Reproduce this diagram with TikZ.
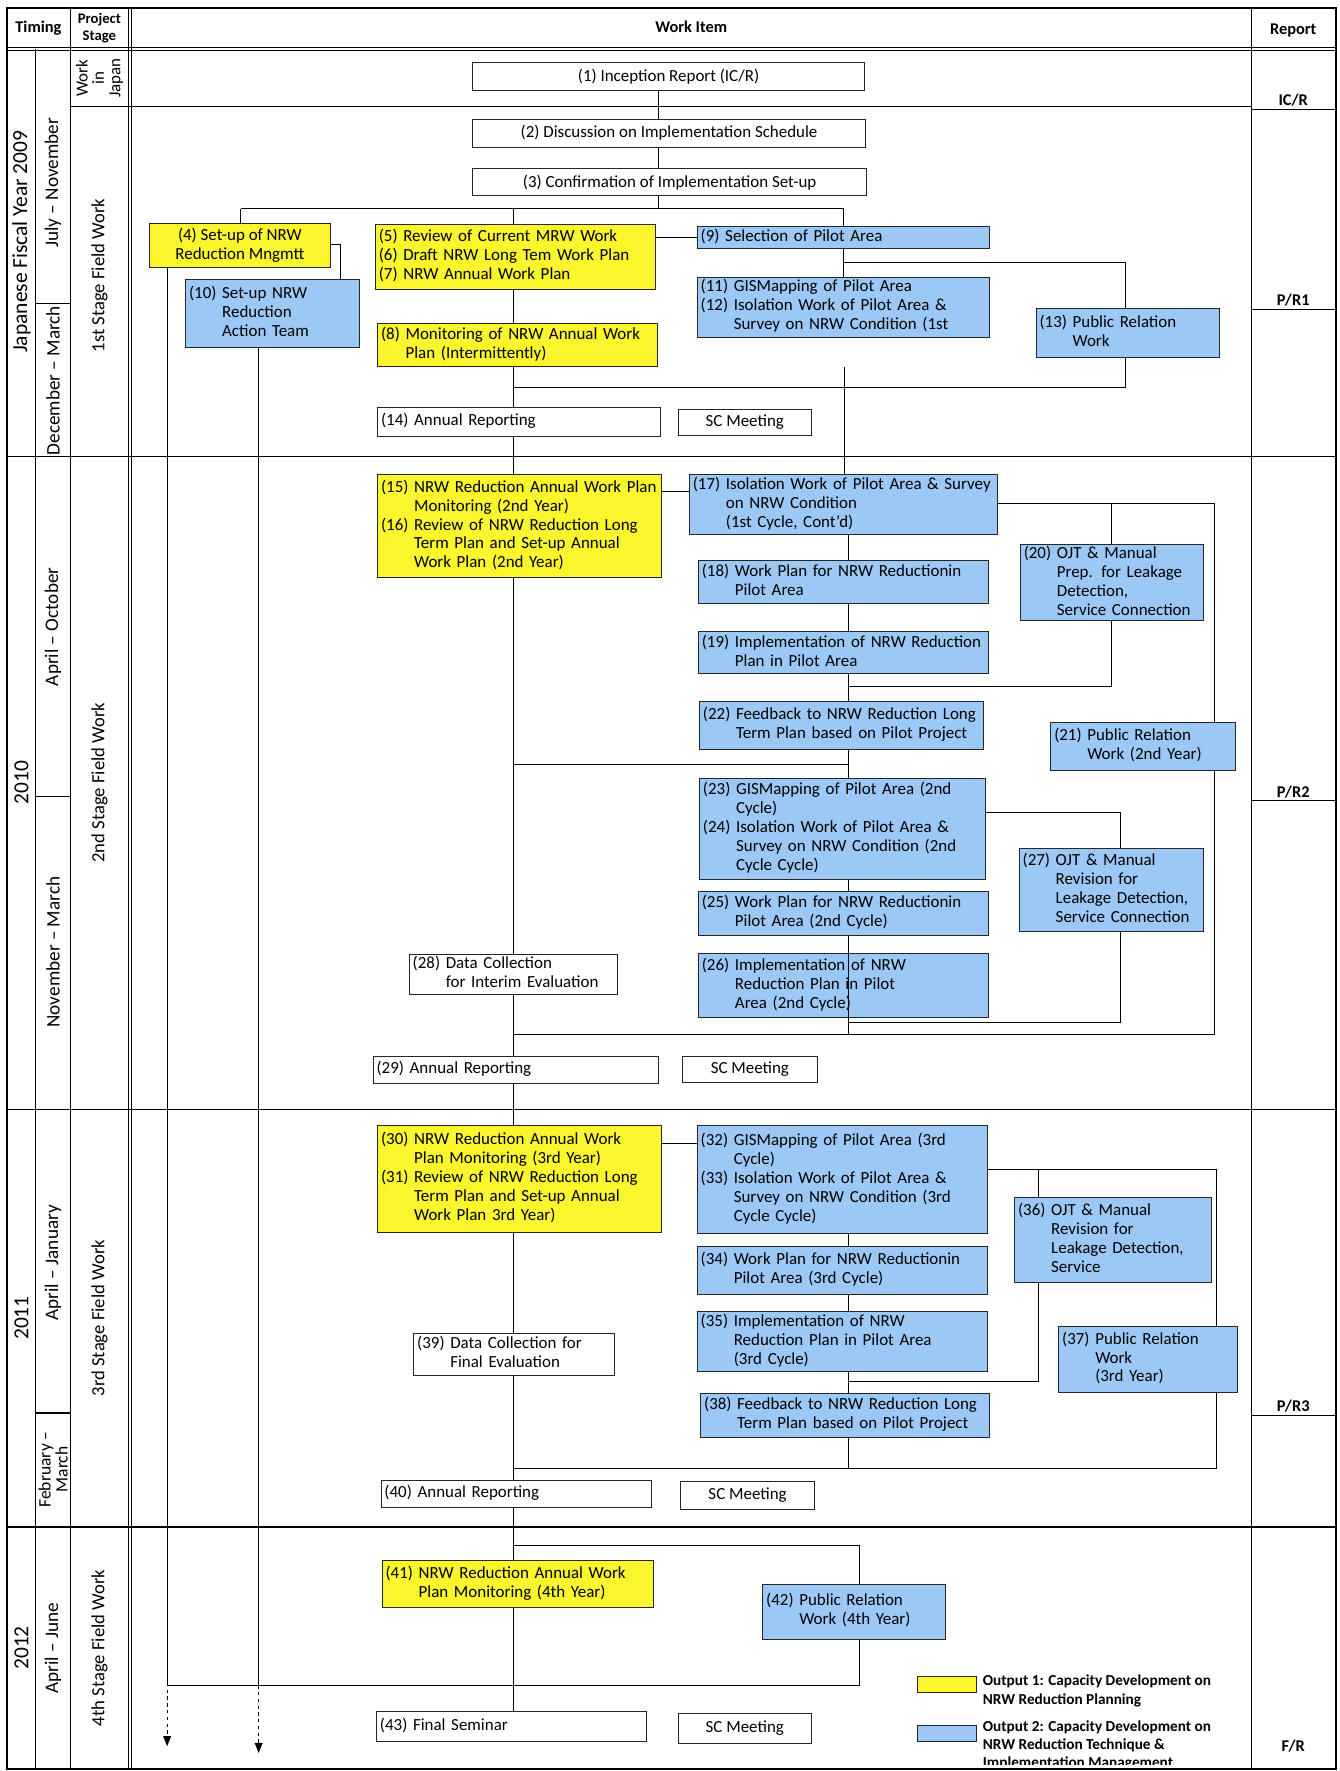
\documentclass[tikz,border=0pt]{standalone}
\usepackage{fontspec}
\setmainfont{Carlito}
\usetikzlibrary{positioning,arrows.meta}

\definecolor{nrwyellow}{RGB}{250,245,45}
\definecolor{nrwblue}{RGB}{155,200,245}
\newcommand{\bxfont}{\fontsize{15}{16.8}\selectfont}
\newcommand{\sidefont}{\fontsize{16.5}{17}\selectfont}
\newcommand{\hdfont}{\fontsize{14.5}{15}\selectfont\bfseries}
\newcommand{\lgfont}{\fontsize{13.5}{16}\selectfont\bfseries}
\newcommand{\witem}[1]{\begin{tabular}{@{\hspace{3pt}}l@{ }l@{}}#1\end{tabular}}

\begin{document}
\begin{tikzpicture}[x=1pt, y=-1pt,
    wb/.style={draw=black!85, line width=0.8pt, anchor=north west, inner xsep=3pt, inner ysep=0pt, font=\bxfont, align=left},
    cbox/.style 2 args={minimum width=#1pt, minimum height=#2pt},
    lbox/.style 2 args={minimum width=#1pt, text width=#1pt, minimum height=#2pt, inner xsep=0pt},
    conn/.style={line width=0.8pt},
    grid/.style={line width=1pt},
    side/.style={rotate=90, font=\sidefont, align=center, inner sep=0pt},
    yr/.style={side, font=\fontsize{19}{20}\selectfont},
    mon/.style={side, font=\fontsize{17}{17}\selectfont},
    rep/.style={font=\hdfont}
  ]
  \fill[white] (0,0) rectangle (1186,1568);
  \useasboundingbox (0,0) rectangle (1186,1568);

  % table frame
  \draw[line width=1.8pt] (6,7) rectangle (1183,1566);
  \draw[grid] (31.6,43) -- (31.6,1566);
  \draw[grid] (62.5,7) -- (62.5,1566);
  \draw[grid] (113.5,7) -- (113.5,1566);
  \draw[grid] (116.6,7) -- (116.6,1566);
  \draw[grid] (1108,7) -- (1108,1566);
  \draw[grid] (6,42) -- (1183,42);
  \draw[grid] (6,45) -- (1183,45);
  \draw[grid] (62.5,94) -- (1108,94);
  \draw[grid] (1108,97) -- (1183,97);
  \draw[grid] (31.6,269) -- (62.5,269);
  \draw[grid] (1108,274) -- (1183,274);
  \draw[grid] (6,404) -- (1183,404);
  \draw[grid] (31.6,705) -- (62.5,705);
  \draw[grid] (1108,709) -- (1183,709);
  \draw[grid] (6,982) -- (1183,982);
  \draw[grid] (31.6,1251) -- (62.5,1251);
  \draw[grid] (1108,1253) -- (1183,1253);
  \draw[grid] (6,1352) -- (1183,1352);

  % headings
  \node[font=\hdfont] (hTiming) at (34,25) {Timing};
  \node[font=\fontsize{13}{14.5}\selectfont\bfseries, align=center] (hStage) at (88,25) {Project\\Stage};
  \node[font=\hdfont] (hWork) at (612,24) {Work Item};
  \node[font=\hdfont] (hReport) at (1145,27) {Report};

  \node[yr] (y2009) at (19,214) {Japanese Fiscal Year 2009};
  \node[yr] (y2010) at (19,693) {2010};
  \node[yr] (y2011) at (19,1167) {2011};
  \node[yr] (y2012) at (19,1459) {2012};
  \node[mon] (m1) at (47,162) {July – November};
  \node[mon] (m2) at (47,337) {December – March};
  \node[mon] (m3) at (47,555) {April – October};
  \node[mon] (m4) at (47,843) {November – March};
  \node[mon] (m5) at (47,1118) {April – January};
  \node[side, font=\fontsize{15.5}{15}\selectfont] (m6) at (47,1301) {February –\\March};
  \node[mon] (m7) at (47,1459) {April – June};
  \node[side, font=\fontsize{15}{14.5}\selectfont] (s0) at (88,69) {Work\\in\\Japan};
  \node[side] (s1) at (88,244) {1st Stage Field Work};
  \node[side] (s2) at (88,693) {2nd Stage Field Work};
  \node[side] (s3) at (88,1167) {3rd Stage Field Work};
  \node[side] (s4) at (88,1459) {4th Stage Field Work};

  \node[rep] (rIC) at (1145,89) {IC/R};
  \node[rep] (rP1) at (1145,266) {P/R1};
  \node[rep] (rP2) at (1145,701) {P/R2};
  \node[rep] (rP3) at (1145,1245) {P/R3};
  \node[rep] (rF) at (1145,1546) {F/R};

  % work items
  \node[wb, cbox={347}{25}, align=center] (w1) at (418,55) {(1) Inception Report (IC/R)};
  \node[wb, cbox={348}{25}, align=center] (w2) at (418,105) {(2) Discussion on Implementation Schedule};
  \node[wb, cbox={349}{24}, align=center] (w3) at (418,149) {(3) Confirmation of Implementation Set-up};
  \node[wb, cbox={160}{39}, align=center, fill=nrwyellow] (w4) at (132,197) {(4) Set-up of NRW\\Reduction Mngmtt};
  \node[wb, lbox={248}{58}, fill=nrwyellow] (w5) at (332,198) {\witem{(5)&Review of Current MRW Work\\(6)&Draft NRW Long Tem Work Plan\\(7)&NRW Annual Work Plan}};
  \node[wb, lbox={248}{38}, fill=nrwyellow] (w8) at (334,286) {\witem{(8)&Monitoring of NRW Annual Work\\&Plan (Intermittently)}};
  \node[wb, lbox={259}{20}, fill=nrwblue] (w9) at (617,200) {\witem{(9)&Selection of Pilot Area}};
  \node[wb, lbox={154}{60}, fill=nrwblue] (w10) at (164,247) {\witem{(10)&Set-up NRW\\&Reduction\\&Action Team}};
  \node[wb, lbox={259}{53}, fill=nrwblue] (w11) at (617,245) {\witem{(11)&GISMapping of Pilot Area\\(12)&Isolation Work of Pilot Area \&\\&Survey on NRW Condition (1st}};
  \node[wb, lbox={162}{43}, fill=nrwblue] (w13) at (917,273) {\witem{(13)&Public Relation\\&Work}};
  \node[wb, lbox={250}{26}] (w14) at (334,360) {\witem{(14)&Annual Reporting}};
  \node[wb, cbox={118}{23}, align=center] (sc1) at (600,362) {SC Meeting};

  \node[wb, lbox={251}{91}, fill=nrwyellow] (w15) at (334,420) {\witem{(15)&NRW Reduction Annual Work Plan\\&Monitoring (2nd Year)\\(16)&Review of NRW Reduction Long\\&Term Plan and Set-up Annual\\&Work Plan (2nd Year)}};
  \node[wb, lbox={273}{53}, fill=nrwblue] (w17) at (610,420) {\witem{(17)&Isolation Work of Pilot Area \& Survey\\&on NRW Condition\\&(1st Cycle, Cont'd)}};
  \node[wb, lbox={257}{38}, fill=nrwblue] (w18) at (618,496) {\witem{(18)&Work Plan for NRW Reductionin\\&Pilot Area}};
  \node[wb, lbox={257}{37}, fill=nrwblue] (w19) at (618,559) {\witem{(19)&Implementation of NRW Reduction\\&Plan in Pilot Area}};
  \node[wb, lbox={162}{66}, fill=nrwblue] (w20) at (903,482) {\witem{(20)&OJT \& Manual\\&Prep. for Leakage\\&Detection,\\&Service Connection}};
  \node[wb, lbox={251}{42}, fill=nrwblue] (w22) at (619,621) {\witem{(22)&Feedback to NRW Reduction Long\\&Term Plan based on Pilot Project}};
  \node[wb, lbox={163}{43}, fill=nrwblue] (w21) at (930,639) {\witem{(21)&Public Relation\\&Work (2nd Year)}};
  \node[wb, lbox={253}{89}, fill=nrwblue] (w23) at (619,689) {\witem{(23)&GISMapping of Pilot Area (2nd\\&Cycle)\\(24)&Isolation Work of Pilot Area \&\\&Survey on NRW Condition (2nd\\&Cycle Cycle)}};
  \node[wb, lbox={257}{39}, fill=nrwblue] (w25) at (618,789) {\witem{(25)&Work Plan for NRW Reductionin\\&Pilot Area (2nd Cycle)}};
  \node[wb, lbox={257}{56}, fill=nrwblue] (w26) at (618,844) {\witem{(26)&Implementation of NRW\\&Reduction Plan in Pilot\\&Area (2nd Cycle)}};
  \node[wb, lbox={163}{73}, fill=nrwblue] (w27) at (902,751) {\witem{(27)&OJT \& Manual\\&Revision for\\&Leakage Detection,\\&Service Connection}};
  \node[wb, lbox={184}{35}] (w28) at (362,845) {\witem{(28)&Data Collection\\&for Interim Evaluation}};
  \node[wb, lbox={253}{24}] (w29) at (330,935) {\witem{(29)&Annual Reporting}};
  \node[wb, cbox={119}{23}, align=center] (sc2) at (604,935) {SC Meeting};

  \node[wb, lbox={251}{95}, fill=nrwyellow] (w30) at (334,996) {\witem{(30)&NRW Reduction Annual Work\\&Plan Monitoring (3rd Year)\\(31)&Review of NRW Reduction Long\\&Term Plan and Set-up Annual\\&Work Plan 3rd Year)}};
  \node[wb, lbox={257}{96}, fill=nrwblue] (w32) at (617,996) {\witem{(32)&GISMapping of Pilot Area (3rd\\&Cycle)\\(33)&Isolation Work of Pilot Area \&\\&Survey on NRW Condition (3rd\\&Cycle Cycle)}};
  \node[wb, lbox={257}{43}, fill=nrwblue] (w34) at (617,1103) {\witem{(34)&Work Plan for NRW Reductionin\\&Pilot Area (3rd Cycle)}};
  \node[wb, lbox={257}{53}, fill=nrwblue] (w35) at (617,1161) {\witem{(35)&Implementation of NRW\\&Reduction Plan in Pilot Area\\&(3rd Cycle)}};
  \node[wb, lbox={174}{75}, fill=nrwblue] (w36) at (898,1060) {\witem{(36)&OJT \& Manual\\&Revision for\\&Leakage Detection,\\&Service}};
  \node[wb, lbox={158}{58}, fill=nrwblue] (w37) at (937,1174) {\witem{(37)&Public Relation\\&Work\\&(3rd Year)}};
  \node[wb, lbox={256}{39}, fill=nrwblue] (w38) at (620,1233) {\witem{(38)&Feedback to NRW Reduction Long\\&Term Plan based on Pilot Project}};
  \node[wb, lbox={178}{37}] (w39) at (366,1180) {\witem{(39)&Data Collection for\\&Final Evaluation}};
  \node[wb, lbox={239}{24}] (w40) at (337,1310) {\witem{(40)&Annual Reporting}};
  \node[wb, cbox={119}{25}, align=center] (sc3) at (602,1311) {SC Meeting};

  \node[wb, lbox={240}{42}, fill=nrwyellow] (w41) at (338,1381) {\witem{(41)&NRW Reduction Annual Work\\&Plan Monitoring (4th Year)}};
  \node[wb, lbox={162}{49}, fill=nrwblue] (w42) at (675,1402) {\witem{(42)&Public Relation\\&Work (4th Year)}};
  \node[wb, lbox={239}{26}] (w43) at (333,1515) {\witem{(43)&Final Seminar}};
  \node[wb, cbox={118}{26}, align=center] (sc4) at (600,1517) {SC Meeting};

  % legend
  \node[wb, cbox={52}{14}, fill=nrwyellow] (legy) at (812,1484) {};
  \node[wb, cbox={52}{14}, fill=nrwblue] (legb) at (812,1527) {};
  \node[anchor=north west, align=left, font=\lgfont, inner sep=0pt] (leg1) at (870,1483) {Output 1: Capacity Development on\\NRW Reduction Planning};
  \begin{scope}
    \clip (860,1515) rectangle (1105,1562);
    \node[anchor=north west, align=left, font=\lgfont, inner sep=0pt] (leg2) at (870,1523) {Output 2: Capacity Development on\\NRW Reduction Technique \&\\Implementation Management};
  \end{scope}

  % connectors
  \coordinate (spA) at (583,0);
  \coordinate (spY) at (455,0);
  \coordinate (spB) at (751,0);
  \coordinate (bL) at (213,185);
  \coordinate (bR) at (747,185);
  \draw[conn] (w1.south -| spA) -- (w2.north -| spA);
  \draw[conn] (w2.south -| spA) -- (w3.north -| spA);
  \draw[conn] (w3.south -| spA) -- (spA |- bL);
  \draw[conn] (bL) -- (bR);
  \draw[conn] (bL) -- (bL |- w4.north);
  \draw[conn] (spY |- bL) -- (w5.north -| spY);
  \draw[conn] (bR) -- (bR |- w9.north);
  \draw[conn] (w9.west) -- (w9.west -| w5.east);
  \draw[conn] (w9.south -| bR) -- (w11.north -| bR);
  \coordinate (b13) at (996,232);
  \draw[conn] (bR |- b13) -- (b13) -- (b13 |- w13.north);
  \coordinate (r13) at (996,343);
  \draw[conn] (w13.south -| r13) -- (r13) -- (r13 -| spY);
  \coordinate (k4) at (301,216);
  \draw[conn] (k4 -| w4.east) -- (k4) -- (k4 |- w10.north);
  \coordinate (aL) at (148,1490);
  \coordinate (aM) at (229,1492);
  \draw[conn] (w4.south -| aL) -- (aL);
  \draw[conn, dashed, -{Triangle[width=7pt,length=9pt]}] (aL) -- (148,1546);
  \draw[conn] (w10.south -| aM) -- (aM);
  \draw[conn, dashed, -{Triangle[width=7pt,length=9pt]}] (aM) -- (229,1552);
  \draw[conn] (w5.south -| spY) -- (w8.north -| spY);
  \draw[conn] (w8.south -| spY) -- (w14.north -| spY);
  \draw[conn] (w14.south -| spY) -- (w15.north -| spY);
  \coordinate (g1) at (748,325);
  \draw[conn] (g1) -- (g1 |- w17.north);

  % second stage
  \coordinate (c15) at (0,435);
  \draw[conn] (w15.east |- c15) -- (w17.west |- c15);
  \coordinate (r17) at (1075,446);
  \coordinate (b2) at (1075,916);
  \draw[conn] (w17.east |- r17) -- (r17) -- (r17 |- w21.north);
  \draw[conn] (w21.south -| b2) -- (b2) -- (b2 -| spY);
  \draw[conn] (w20.north |- r17) -- (w20.north);
  \coordinate (m20) at (0,608);
  \draw[conn] (w20.south) -- (w20.south |- m20) -- (m20 -| spB);
  \draw[conn] (w17.south -| spB) -- (w18.north -| spB);
  \draw[conn] (w18.south -| spB) -- (w19.north -| spB);
  \draw[conn] (w19.south -| spB) -- (w22.north -| spB);
  \draw[conn] (w22.south -| spB) -- (w23.north -| spB);
  \draw[conn] (w23.south -| spB) -- (w25.north -| spB);
  \draw[conn] (w25.south -| spB) -- (spB |- b2);
  \coordinate (h22) at (0,677);
  \draw[conn] (spY |- h22) -- (spB |- h22);
  \coordinate (k27) at (992,719);
  \draw[conn] (k27 -| w23.east) -- (k27) -- (k27 |- w27.north);
  \coordinate (b27) at (0,905);
  \draw[conn] (w27.south -| k27) -- (k27 |- b27) -- (b27 -| spB);
  \draw[conn] (w15.south -| spY) -- (w28.north -| spY);
  \draw[conn] (w28.south -| spY) -- (w29.north -| spY);
  \draw[conn] (w29.south -| spY) -- (w30.north -| spY);

  % third stage
  \coordinate (c30) at (0,1012);
  \draw[conn] (w30.east |- c30) -- (w32.west |- c30);
  \coordinate (r32) at (1077,1035);
  \coordinate (b3) at (1077,1300);
  \draw[conn] (w32.east |- r32) -- (r32) -- (r32 |- w37.north);
  \draw[conn] (w37.south -| b3) -- (b3) -- (b3 -| spY);
  \coordinate (k36) at (919,1035);
  \coordinate (m36) at (0,1223);
  \draw[conn] (k36) -- (k36 |- w36.north);
  \draw[conn] (w36.south -| k36) -- (k36 |- m36) -- (m36 -| spB);
  \draw[conn] (w32.south -| spB) -- (w34.north -| spB);
  \draw[conn] (w34.south -| spB) -- (w35.north -| spB);
  \draw[conn] (w35.south -| spB) -- (w38.north -| spB);
  \draw[conn] (w38.south -| spB) -- (spB |- b3);
  \draw[conn] (w30.south -| spY) -- (w39.north -| spY);
  \draw[conn] (w39.south -| spY) -- (w40.north -| spY);
  \draw[conn] (w40.south -| spY) -- (w41.north -| spY);

  % fourth stage
  \coordinate (k42) at (761,1368);
  \draw[conn] (spY |- k42) -- (k42) -- (k42 |- w42.north);
  \coordinate (b4) at (761,1492);
  \draw[conn] (w42.south -| b4) -- (b4) -- (b4 -| aL);
  \draw[conn] (w41.south -| spY) -- (w43.north -| spY);
\end{tikzpicture}
\end{document}
